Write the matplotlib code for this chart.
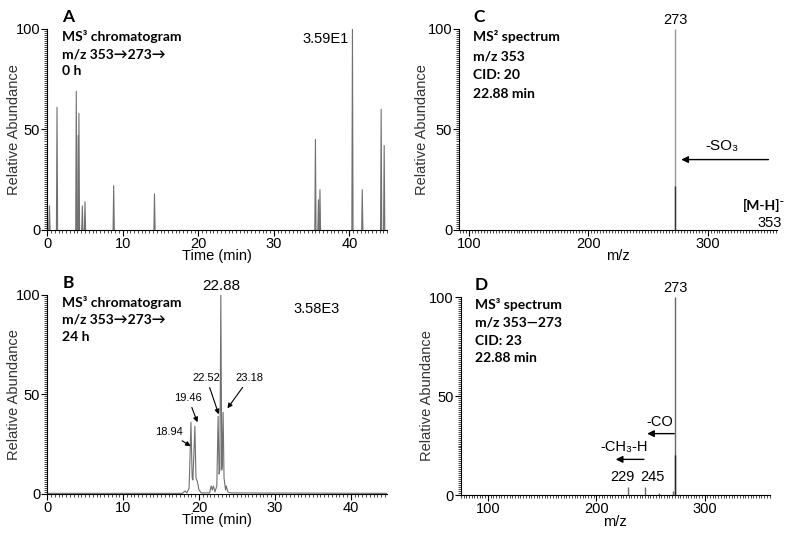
import numpy as np
import matplotlib.pyplot as plt
from matplotlib.ticker import MultipleLocator

# panel A: MS3 chromatogram at 0 h (isolated spikes)
a_rt = [0.0, 0.3, 1.3, 3.85, 4.1, 4.2, 4.65, 5.0, 8.8, 14.2, 35.5, 35.9, 36.1, 40.4, 41.7, 44.2, 44.6]
a_int = [11, 12, 61, 69, 47, 58, 12, 14, 22, 18, 45, 15, 20, 100, 20, 60, 42]

# panel B: MS3 chromatogram at 24 h (trace)
b_time = [0, 17.8, 18.2, 18.4, 18.7, 18.94, 19.1, 19.2, 19.46, 19.6, 19.8, 20.0, 20.3,
          21.4, 21.6, 21.75, 21.9, 22.1, 22.35, 22.52, 22.65, 22.75, 22.88, 23.0, 23.05,
          23.18, 23.3, 23.5, 23.6, 23.8, 24.2, 44.8]
b_int = [0.3, 0.3, 1.5, 0.5, 3, 36, 8, 7, 34, 8, 6, 2, 0.5,
         0.5, 4, 2, 4, 1, 4, 39, 10, 12, 100, 12, 14,
         41, 8, 2, 4, 1, 0.5, 0.3]
b_labels = ["18.94", "19.46", "22.52", "23.18"]
b_label_tip = [(18.9, 24), (19.8, 36), (22.6, 40), (23.75, 43)]
b_label_pos = [(16.0, 31), (18.6, 48), (21.0, 58), (26.6, 58)]

# panel C: MS2 spectrum of m/z 353
c_mz = [273, 273]
c_int = [100, 22]

# panel D: MS3 spectrum 353 -> 273
d_mz = [229, 245, 258, 271, 273, 273]
d_int = [4, 4, 1, 2, 100, 20]

plt.rcParams["font.family"] = ["Liberation Sans", "DejaVu Sans"]
BOLD = ["Lato", "DejaVu Sans"]
LINE = "#707070"

fig = plt.figure(figsize=(8, 5.41), dpi=100)
axA = fig.add_axes([0.059, 0.575, 0.425, 0.3715])
axB = fig.add_axes([0.059, 0.087, 0.425, 0.368])
axC = fig.add_axes([0.574, 0.575, 0.397, 0.3715])
axD = fig.add_axes([0.576, 0.085, 0.386, 0.366])


def style(ax, xmajor, xminor, ylab_x):
    for s in ["top", "right"]:
        ax.spines[s].set_visible(False)
    ax.set_ylim(0, 100)
    ax.set_yticks([0, 50, 100])
    ax.yaxis.set_minor_locator(MultipleLocator(1))
    ax.xaxis.set_major_locator(MultipleLocator(xmajor))
    ax.xaxis.set_minor_locator(MultipleLocator(xminor))
    ax.tick_params(which="major", length=4, width=0.8, labelsize=10.5, pad=1)
    ax.tick_params(which="minor", length=2, width=0.5)
    ax.set_ylabel("Relative Abundance", fontsize=10.5, color="#333333")
    ax.yaxis.set_label_coords(ylab_x, 0.5)


def header(ax, letter, lines, dy=0.085):
    ax.text(0.045, 1.06, letter, transform=ax.transAxes, fontsize=12.5,
            fontweight="bold", family=BOLD, va="center")
    for i, line in enumerate(lines):
        ax.text(0.045, 0.96 - i * dy, line, transform=ax.transAxes, fontsize=10,
                fontweight="bold", family=BOLD, va="center")


# A
for t, h in zip(a_rt, a_int):
    axA.plot([t - 0.08, t, t + 0.08], [0, h, 0], color=LINE, lw=0.8)
style(axA, 10, 0.5, -0.076)
axA.set_xlim(0, 45)
axA.set_xlabel("Time (min)", fontsize=10.5, labelpad=-1)
axA.text(36.8, 95, "3.59E1", fontsize=10.5, ha="center", va="center")
header(axA, "A", ["MS³ chromatogram", "m/z 353→273→", "0 h"])

# B
axB.plot(b_time, b_int, color=LINE, lw=0.8)
style(axB, 10, 0.5, -0.076)
axB.set_xlim(0, 44.8)
axB.set_xlabel("Time (min)", fontsize=10.5, labelpad=-1)
axB.text(22.88, 101, "22.88", fontsize=11, ha="center", va="bottom")
axB.text(35.5, 93, "3.58E3", fontsize=10.5, ha="center", va="center")
for lab, tip, pos in zip(b_labels, b_label_tip, b_label_pos):
    axB.annotate(lab, xy=tip, xytext=pos, fontsize=8, ha="center", va="center",
                 arrowprops=dict(arrowstyle="-|>", color="black", lw=0.8,
                                 mutation_scale=7, shrinkA=1, shrinkB=0))
header(axB, "B", ["MS³ chromatogram", "m/z 353→273→", "24 h"])

# C
axC.vlines(c_mz[0], 0, c_int[0], color="#999999", lw=1)
axC.vlines(c_mz[1], 0, c_int[1], color="#333333", lw=1)
style(axC, 100, 2.5, -0.094)
axC.set_xlim(92, 358)
axC.set_xlabel("m/z", fontsize=10.5, labelpad=-1)
axC.text(273, 101, "273", fontsize=10.5, ha="center", va="bottom")
axC.annotate("", xy=(278, 35), xytext=(351, 35),
             arrowprops=dict(arrowstyle="-|>", color="black", lw=1,
                             mutation_scale=10, shrinkA=0, shrinkB=0))
axC.text(312, 42, "-SO₃", fontsize=11, ha="center", va="center")
axC.text(347, 12, "[M-H]⁻", fontsize=10, fontweight="bold", family=BOLD,
         ha="center", va="center")
axC.text(352, 3.5, "353", fontsize=10.5, ha="center", va="center")
header(axC, "C", ["MS² spectrum", "m/z 353", "CID: 20", "22.88 min"], dy=0.095)

# D
d_col = ["#666666"] * (len(d_mz) - 1) + ["#222222"]
axD.vlines(d_mz, 0, d_int, colors=d_col, lw=1)
style(axD, 100, 2.5, -0.088)
axD.set_xlim(75, 360)
axD.set_xlabel("m/z", fontsize=10.5, labelpad=-1)
axD.text(273, 101, "273", fontsize=10.5, ha="center", va="bottom")
axD.annotate("", xy=(247, 31), xytext=(272, 31),
             arrowprops=dict(arrowstyle="-|>", color="black", lw=1,
                             mutation_scale=10, shrinkA=0, shrinkB=0))
axD.text(259, 37, "-CO", fontsize=10.5, ha="center", va="center")
axD.annotate("", xy=(218, 18), xytext=(244, 18),
             arrowprops=dict(arrowstyle="-|>", color="black", lw=1,
                             mutation_scale=10, shrinkA=0, shrinkB=0))
axD.text(226, 24, "-CH₃-H", fontsize=10.5, ha="center", va="center")
axD.text(224, 9, "229", fontsize=10.5, ha="center", va="center")
axD.text(252, 9, "245", fontsize=10.5, ha="center", va="center")
header(axD, "D", ["MS³ spectrum", "m/z 353—273", "CID: 23", "22.88 min"], dy=0.09)

fig.savefig("out.png", dpi=100)
